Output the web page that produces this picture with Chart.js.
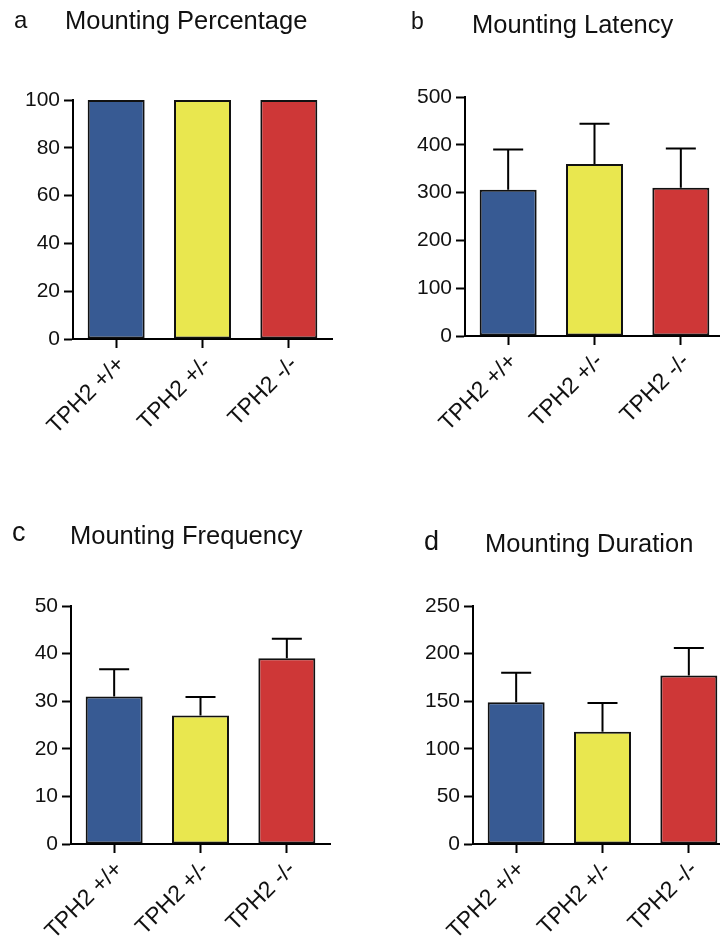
<!DOCTYPE html>
<html>
<head>
<meta charset="utf-8">
<script src="https://cdn.jsdelivr.net/npm/chart.js@4"></script>
<style>
  html, body { margin: 0; padding: 0; background: #fff; overflow: hidden; }
  body { width: 720px; height: 940px; position: relative; font-family: "Liberation Sans", Arial, sans-serif; color: #111; }
  canvas { position: absolute; }
  .lbl { position: absolute; line-height: 1; white-space: nowrap; }
</style>
</head>
<body>

<canvas id="chartA" width="360" height="470" style="left:0;top:0"></canvas>
<canvas id="chartB" width="370" height="470" style="left:360px;top:0"></canvas>
<canvas id="chartC" width="360" height="470" style="left:0;top:470px"></canvas>
<canvas id="chartD" width="380" height="470" style="left:360px;top:470px"></canvas>

<span class="lbl" style="left:14px;top:8px;font-size:24px">a</span>
<span class="lbl" style="left:65px;top:8px;font-size:25.5px">Mounting Percentage</span>
<span class="lbl" style="left:411px;top:10px;font-size:23px">b</span>
<span class="lbl" style="left:472px;top:12px;font-size:25.5px">Mounting Latency</span>
<span class="lbl" style="left:12px;top:519px;font-size:27px">c</span>
<span class="lbl" style="left:70px;top:523px;font-size:25.5px">Mounting Frequency</span>
<span class="lbl" style="left:424px;top:528px;font-size:27px">d</span>
<span class="lbl" style="left:485px;top:531px;font-size:25.5px">Mounting Duration</span>

<script>
// ---- data ----
const groups = ["TPH2 +/+", "TPH2 +/-", "TPH2 -/-"];

const percentMean = [100, 100, 100];
const percentTicks = [0, 20, 40, 60, 80, 100];

const latencyMean = [306, 360, 310];
const latencySem = [84, 84, 82];
const latencyTicks = [0, 100, 200, 300, 400, 500];

const freqMean = [31, 27, 39];
const freqSem = [5.7, 3.9, 4.1];
const freqTicks = [0, 10, 20, 30, 40, 50];

const durMean = [149, 118, 177];
const durSem = [31, 30, 29];
const durTicks = [0, 50, 100, 150, 200, 250];

// ---- style ----
const barColors = ["#375a93", "#e9e74f", "#ce3737"];
const fontFam = '"Liberation Sans", Arial, sans-serif';

// upper-only SEM bars
const errorBars = {
  id: "errorBars",
  afterDatasetsDraw(chart) {
    const ds = chart.data.datasets[0];
    if (!ds.sem) return;
    const meta = chart.getDatasetMeta(0);
    const y = chart.scales.y;
    const ctx = chart.ctx;
    ctx.save();
    ctx.strokeStyle = "#000";
    ctx.lineWidth = 2;
    meta.data.forEach((bar, i) => {
      const top = y.getPixelForValue(ds.data[i] + ds.sem[i]);
      ctx.beginPath();
      ctx.moveTo(bar.x, bar.y);
      ctx.lineTo(bar.x, top);
      ctx.moveTo(bar.x - 15, top);
      ctx.lineTo(bar.x + 15, top);
      ctx.stroke();
    });
    ctx.restore();
  }
};

function painel(id, means, sem, ticks, box) {
  const canvas = document.getElementById(id);
  const H = canvas.height;
  new Chart(canvas.getContext("2d"), {
    type: "bar",
    data: {
      labels: groups,
      datasets: [{
        data: means,
        sem: sem,
        backgroundColor: barColors,
        borderColor: "#111",
        borderWidth: 2,
        borderSkipped: false,
        barPercentage: 0.66,
        categoryPercentage: 1
      }]
    },
    options: {
      responsive: false,
      animation: false,
      layout: { padding: { left: 0, top: box.top, right: box.right, bottom: 0 } },
      plugins: { legend: { display: false }, tooltip: { enabled: false } },
      scales: {
        x: {
          offset: true,
          grid: { drawOnChartArea: false, offset: false, tickLength: 9, tickWidth: 2, tickColor: "#000" },
          border: { color: "#000", width: 2 },
          ticks: { color: "#111", font: { family: fontFam, size: 23 }, minRotation: 45, maxRotation: 45, padding: 3, labelOffset: 5 },
          afterFit: s => { s.height = H - box.bottom; }
        },
        y: {
          min: ticks[0],
          max: ticks[ticks.length - 1],
          grid: { drawOnChartArea: false, tickLength: 9, tickWidth: 2, tickColor: "#000" },
          border: { color: "#000", width: 2 },
          ticks: { color: "#111", font: { family: fontFam, size: 21 }, padding: 4 },
          afterBuildTicks: s => { s.ticks = ticks.map(v => ({ value: v })); },
          afterFit: s => { s.width = box.left; }
        }
      }
    },
    plugins: [errorBars]
  });
}

painel("chartA", percentMean, null, percentTicks, { left: 73, top: 100, right: 28, bottom: 339 });
painel("chartB", latencyMean, latencySem, latencyTicks, { left: 105, top: 97, right: 6, bottom: 336 });
painel("chartC", freqMean, freqSem, freqTicks, { left: 71, top: 136, right: 30, bottom: 374 });
painel("chartD", durMean, durSem, durTicks, { left: 113, top: 136, right: 8, bottom: 374 });
</script>
</body>
</html>
